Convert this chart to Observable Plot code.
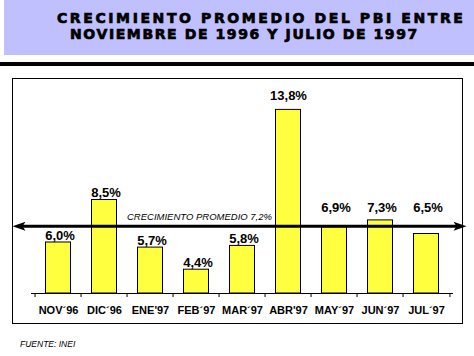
<!DOCTYPE html>
<html>
<head>
<meta charset="utf-8">
<script src="https://cdn.jsdelivr.net/npm/d3@7"></script>
<script src="https://cdn.jsdelivr.net/npm/@observablehq/plot@0.6"></script>
<style>
  body { margin: 0; background: #fff; }
  #wrap { position: relative; width: 474px; height: 356px; overflow: hidden; background: #fff; }
  .caja { position: absolute; left: 4px; top: 0; width: 470px; height: 55px; background: #c0c0ff; }
  .t { position: absolute; font-family: "DejaVu Sans", sans-serif; font-weight: bold; font-size: 14px; line-height: 14px; white-space: nowrap; color: #000; -webkit-text-stroke: 0.7px #000; }
  .barra { position: absolute; left: 0; top: 62px; width: 474px; height: 4px; background: #000; }
  #chart { position: absolute; left: 0; top: 70px; }
  .fuente { position: absolute; left: 20px; top: 339px; font-family: "Liberation Sans", Arial, sans-serif; font-style: italic; font-size: 8.5px; color: #000; }
</style>
</head>
<body>
<div id="wrap">
  <div class="caja">
    <div class="t" id="t1" style="left:53px;top:11px;letter-spacing:2.6px">CRECIMIENTO PROMEDIO DEL PBI ENTRE</div>
    <div class="t" id="t2" style="left:66px;top:27px;letter-spacing:1.6px">NOVIEMBRE DE 1996 Y JULIO DE 1997</div>
  </div>
  <div class="barra"></div>
  <div id="chart"></div>
  <div class="fuente">FUENTE: INEI</div>
</div>
<script>
// ---- Data ----
const meses = ["NOV´96", "DIC´96", "ENE'97", "FEB´97", "MAR´97", "ABR'97", "MAY´97", "JUN´97", "JUL´97"];
const crecimiento = [6.0, 8.5, 5.7, 4.4, 5.8, 13.8, 6.9, 7.3, 6.5];
const promedioTexto = ["CRECIMIENTO PROMEDIO 7,2%"];
const promedioLinea = [6.95];   // level at which the average line is drawn in the picture
const ejeY = [3, 15];           // value range of the (hidden) y axis
const mesEtiquetaPromedio = ["FEB´97"];

// ---- Build ----
const datos = meses.map((mes, i) => ({mes, valor: crecimiento[i]}));
const W = 474, H = 260, mL = 31, mR = 21, mT = 19, mB = 37;
const bw = (W - mL - mR) / meses.length;
const prom = promedioLinea[0];
const maxV = d3.max(crecimiento);
const fmt = v => v.toFixed(1).replace(".", ",") + "%";
const cerca = d => Math.abs(d.valor - prom) < 0.6;

const flechaDer = {
  draw(ctx) {
    ctx.moveTo(7, 0); ctx.lineTo(-6, -4.5); ctx.lineTo(-3, 0); ctx.lineTo(-6, 4.5); ctx.closePath();
  }
};
const flechaIzq = {
  draw(ctx) {
    ctx.moveTo(-7, 0); ctx.lineTo(6, -4.5); ctx.lineTo(3, 0); ctx.lineTo(6, 4.5); ctx.closePath();
  }
};

const txt = {fontFamily: "Liberation Sans, Arial, sans-serif", fill: "#000"};

const chart = Plot.plot({
  width: W, height: H,
  marginLeft: mL, marginRight: mR, marginTop: mT, marginBottom: mB,
  style: {fontFamily: "Liberation Sans, Arial, sans-serif", background: "transparent", overflow: "visible"},
  x: {type: "band", domain: meses, padding: 0},
  y: {domain: ejeY, axis: null},
  marks: [
    Plot.frame({stroke: "#000", strokeWidth: 1, insetTop: -11, insetBottom: -30, insetLeft: -19, insetRight: -9}),
    Plot.barY(datos, {x: "mes", y1: ejeY[0], y2: "valor", fill: "#ffff40", stroke: "#000", strokeWidth: 1, insetLeft: 10.5, insetRight: 10.5}),
    Plot.ruleY([ejeY[0]], {stroke: "#000", strokeWidth: 1}),
    Plot.ruleX(meses, {x: d => d, y1: ejeY[0], y2: ejeY[0], insetBottom: -4, dx: -bw / 2, stroke: "#000"}),
    Plot.ruleX(meses.slice(-1), {x: d => d, y1: ejeY[0], y2: ejeY[0], insetBottom: -4, dx: bw / 2, stroke: "#000"}),
    Plot.axisX({tickSize: 0, tickPadding: 13, fontSize: 11, fontWeight: "bold", fill: "#000", label: null}),
    // average line
    Plot.ruleY(promedioLinea, {stroke: "#000", strokeWidth: 3, insetLeft: -13, insetRight: -7}),
    Plot.dot(promedioLinea, {y: d => d, frameAnchor: "left", dx: -12, symbol: flechaIzq, fill: "#000", stroke: "none"}),
    Plot.dot(promedioLinea, {y: d => d, frameAnchor: "right", dx: 6, symbol: flechaDer, fill: "#000", stroke: "none"}),
    Plot.text(promedioTexto, {x: () => mesEtiquetaPromedio[0], y: () => prom, text: d => d, dy: -6, dx: 3, lineAnchor: "bottom", fontSize: 9.5, fontStyle: "italic", ...txt}),
    // value labels
    Plot.text(datos, {filter: d => !cerca(d) && d.valor !== maxV, x: "mes", y: "valor", text: d => fmt(d.valor), dy: -3, dx: 1.5, lineAnchor: "bottom", fontSize: 13, fontWeight: "bold", ...txt}),
    Plot.text(datos, {filter: d => d.valor === maxV, x: "mes", y: "valor", text: d => fmt(d.valor), dy: -10, lineAnchor: "bottom", fontSize: 13, fontWeight: "bold", ...txt}),
    Plot.text(datos, {filter: d => cerca(d), x: "mes", y: () => prom, text: d => fmt(d.valor), dy: -14, dx: 1.5, lineAnchor: "bottom", fontSize: 13, fontWeight: "bold", ...txt})
  ]
});
document.getElementById("chart").appendChild(chart);
</script>
</body>
</html>
